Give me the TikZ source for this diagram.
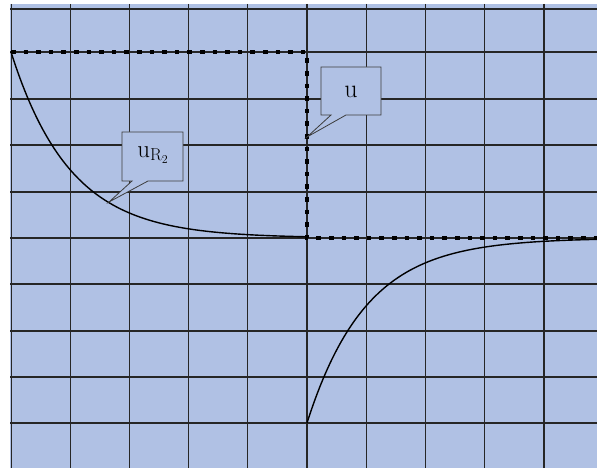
\documentclass[tikz,border=0pt]{standalone}
\usepackage{amsmath}
\usepackage{xcolor}
\usetikzlibrary{positioning}

\definecolor{scopeblue}{RGB}{176,193,228}
\definecolor{boxgray}{RGB}{60,60,60}

\begin{document}
\begin{tikzpicture}[
    x=1pt, y=-1pt,
    grid/.style={draw=black!85, line width=1.6pt},
    wave/.style={draw=black, line width=4.6pt, dash pattern=on 4.6pt off 8pt},
    signal/.style={draw=black, line width=1.4pt},
    callout/.style={draw=boxgray, fill=scopeblue, line width=0.8pt, line join=miter},
    tagtext/.style={font=\fontsize{26}{30}\selectfont, inner sep=0pt}
]
\useasboundingbox (0,0) rectangle (597,468);

% Screen
\fill[scopeblue] (10,4) rectangle (597,468);
\foreach \x in {11.5,70.5,129.5,188.5,247.5,307,366.5,425.5,484.5,544}
    \draw[grid] (\x,4) -- (\x,468);
\foreach \y in {9,52,99,145,192,238,284,331,377,423}
    \draw[grid] (10,\y) -- (597,\y);

% Input voltage u
\coordinate (wstart) at (11,52);
\coordinate (wtop) at (307,52);
\coordinate (wlow) at (307,238);
\coordinate (wend) at (597,238);
\draw[wave] (wstart) -- (wtop) -- (wlow) -- (wend);

% Voltage u_R2
\draw[signal] plot[domain=11:307, samples=120, smooth]
    (\x, {238-186*exp(-(\x-11)/59)});
\draw[signal] plot[domain=307:597, samples=120, smooth]
    (\x, {238+185*exp(-(\x-307)/59)});

% Callouts
\coordinate (utip) at (307,137);
\path[callout] (321,67) -- (381,67) -- (381,115) -- (346,115)
    -- (utip) -- (331,115) -- (321,115) -- cycle;
\node[tagtext] (ulab) at (351,92) {u};

\coordinate (urtip) at (109,202);
\path[callout] (122,132) -- (183,132) -- (183,181) -- (148,181)
    -- (urtip) -- (132,181) -- (122,181) -- cycle;
\node[tagtext] (urlab) at (153,155) {$\mathrm{u}_{\mathrm{R}_2}$};

\end{tikzpicture}
\end{document}
